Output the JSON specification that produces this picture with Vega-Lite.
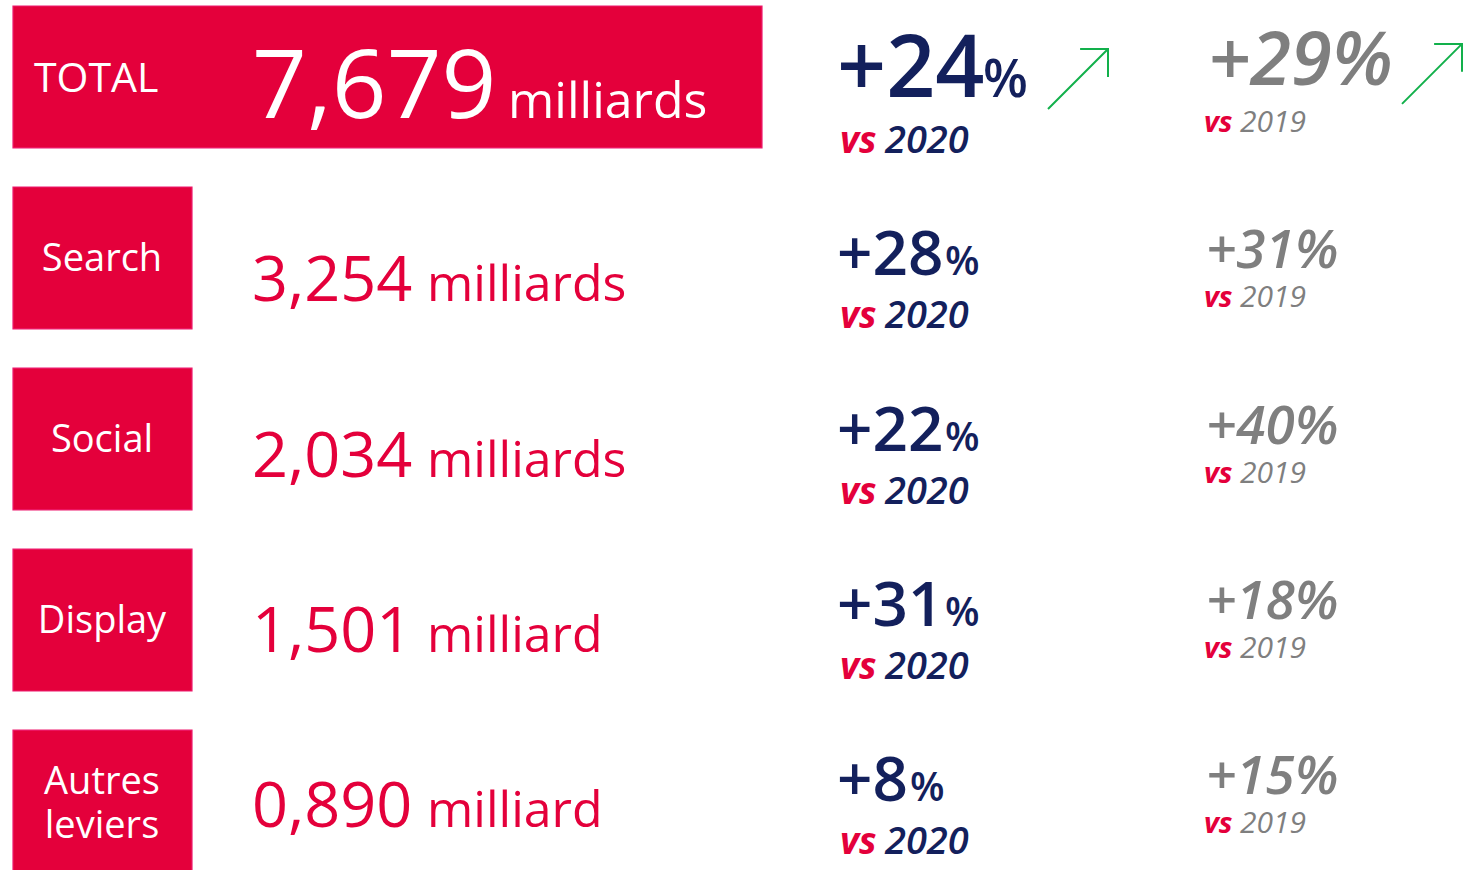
{
  "$schema": "https://vega.github.io/schema/vega-lite/v6.json",
  "width": 1471,
  "height": 870,
  "autosize": {"type": "fit", "contains": "padding"},
  "padding": 0,
  "background": "white",
  "config": {"view": {"stroke": null}, "text": {"font": "Open Sans"}},
  "data": {
    "values": [
      {"segment": "TOTAL", "label": "TOTAL", "amount": "7,679", "unit": "milliards", "vs2020": "+24", "vs2019": "+29%"},
      {"segment": "Search", "label": "Search", "amount": "3,254", "unit": "milliards", "vs2020": "+28", "vs2019": "+31%"},
      {"segment": "Social", "label": "Social", "amount": "2,034", "unit": "milliards", "vs2020": "+22", "vs2019": "+40%"},
      {"segment": "Display", "label": "Display", "amount": "1,501", "unit": "milliard", "vs2020": "+31", "vs2019": "+18%"},
      {"segment": "Autres leviers", "label": "Autres leviers", "amount": "0,890", "unit": "milliard", "vs2020": "+8", "vs2019": "+15%"}
    ]
  },
  "resolve": {"scale": {"y": "independent"}},
  "layer": [
    {
      "encoding": {
        "y": {"field": "segment", "type": "nominal", "axis": null,
          "scale": {"type": "band", "domain": ["TOTAL", "Search", "Social", "Display", "Autres leviers"], "range": [6, 872], "paddingInner": 0.216, "paddingOuter": 0}}
      },
      "layer": [
        {
          "transform": [{"filter": "datum.segment === 'TOTAL'"}],
          "mark": {"type": "rect", "fill": "#E4003B", "stroke": "#EE1B6E", "strokeWidth": 1.2},
          "encoding": {
            "x": {"datum": 13, "type": "quantitative", "axis": null, "scale": {"domain": [0, 1471], "nice": false, "zero": false}},
            "x2": {"datum": 762}
          }
        },
        {
          "transform": [{"filter": "datum.segment !== 'TOTAL'"}],
          "mark": {"type": "rect", "fill": "#E4003B", "stroke": "#EE1B6E", "strokeWidth": 1.2},
          "encoding": {
            "x": {"datum": 13, "type": "quantitative", "axis": null, "scale": {"domain": [0, 1471], "nice": false, "zero": false}},
            "x2": {"datum": 192}
          }
        },
        {
          "transform": [{"filter": "datum.segment === 'TOTAL'"}],
          "mark": {"type": "text", "align": "left", "baseline": "middle", "fontSize": 41, "dy": 3, "color": "white"},
          "encoding": {
            "x": {"datum": 34, "type": "quantitative", "axis": null},
            "text": {"field": "label"}
          }
        },
        {
          "transform": [{"filter": {"field": "segment", "oneOf": ["Search", "Social", "Display"]}}],
          "mark": {"type": "text", "align": "center", "baseline": "middle", "fontSize": 38, "dy": 2, "color": "white"},
          "encoding": {
            "x": {"datum": 102, "type": "quantitative", "axis": null},
            "text": {"field": "label"}
          }
        },
        {
          "transform": [{"filter": "datum.segment === 'Autres leviers'"}],
          "mark": {"type": "text", "align": "center", "baseline": "middle", "fontSize": 38, "dy": -18, "lineBreak": " ", "lineHeight": 44, "color": "white"},
          "encoding": {
            "x": {"datum": 102, "type": "quantitative", "axis": null},
            "text": {"field": "label"}
          }
        }
      ]
    },
    {
      "encoding": {
        "y": {"field": "segment", "type": "nominal", "axis": null,
          "scale": {"type": "point", "domain": ["TOTAL", "Search", "Social", "Display", "Autres leviers"], "range": [100, 801], "padding": 0}}
      },
      "layer": [
        {
          "transform": [{"filter": "datum.segment === 'TOTAL'"}],
          "mark": {"type": "text", "align": "left", "baseline": "alphabetic", "fontSize": 96, "dy": 18, "color": "white"},
          "encoding": {"x": {"datum": 252, "type": "quantitative", "axis": null}, "text": {"field": "amount"}}
        },
        {
          "transform": [{"filter": "datum.segment === 'TOTAL'"}],
          "mark": {"type": "text", "align": "left", "baseline": "alphabetic", "fontSize": 50, "dy": 18, "color": "white"},
          "encoding": {"x": {"datum": 508, "type": "quantitative", "axis": null}, "text": {"field": "unit"}}
        },
        {
          "transform": [{"filter": "datum.segment !== 'TOTAL'"}],
          "mark": {"type": "text", "align": "left", "baseline": "alphabetic", "fontSize": 63, "dy": 26, "color": "#E4003B"},
          "encoding": {"x": {"datum": 252, "type": "quantitative", "axis": null}, "text": {"field": "amount"}}
        },
        {
          "transform": [{"filter": "datum.segment !== 'TOTAL'"}],
          "mark": {"type": "text", "align": "left", "baseline": "alphabetic", "fontSize": 50, "dy": 26, "color": "#E4003B"},
          "encoding": {"x": {"datum": 427, "type": "quantitative", "axis": null}, "text": {"field": "unit"}}
        },
        {
          "transform": [{"filter": "datum.segment === 'TOTAL'"}],
          "mark": {"type": "text", "align": "left", "baseline": "alphabetic", "fontSize": 86, "fontWeight": 600, "dy": -3, "color": "#13205C"},
          "encoding": {"x": {"datum": 837, "type": "quantitative", "axis": null}, "text": {"field": "vs2020"}}
        },
        {
          "transform": [{"filter": "datum.segment === 'TOTAL'"}],
          "mark": {"type": "text", "align": "left", "baseline": "alphabetic", "fontSize": 52, "fontWeight": 600, "dy": -3, "color": "#13205C", "text": "%"},
          "encoding": {"x": {"datum": 983, "type": "quantitative", "axis": null}}
        },
        {
          "transform": [{"filter": "datum.segment !== 'TOTAL'"}],
          "mark": {"type": "text", "align": "left", "baseline": "alphabetic", "fontSize": 62, "fontWeight": 600, "dy": 0, "color": "#13205C"},
          "encoding": {"x": {"datum": 837, "type": "quantitative", "axis": null}, "text": {"field": "vs2020"}}
        },
        {
          "transform": [{"filter": {"field": "segment", "oneOf": ["Search", "Social", "Display"]}}],
          "mark": {"type": "text", "align": "left", "baseline": "alphabetic", "fontSize": 40, "fontWeight": 600, "dy": 0, "color": "#13205C", "text": "%"},
          "encoding": {"x": {"datum": 945, "type": "quantitative", "axis": null}}
        },
        {
          "transform": [{"filter": "datum.segment === 'Autres leviers'"}],
          "mark": {"type": "text", "align": "left", "baseline": "alphabetic", "fontSize": 40, "fontWeight": 600, "dy": 0, "color": "#13205C", "text": "%"},
          "encoding": {"x": {"datum": 910, "type": "quantitative", "axis": null}}
        },
        {
          "mark": {"type": "text", "align": "left", "baseline": "alphabetic", "fontSize": 37, "fontWeight": "bold", "fontStyle": "italic", "dy": 53, "color": "#E4003B", "text": "vs"},
          "encoding": {"x": {"datum": 840, "type": "quantitative", "axis": null}}
        },
        {
          "mark": {"type": "text", "align": "left", "baseline": "alphabetic", "fontSize": 38, "fontWeight": 600, "fontStyle": "italic", "dy": 53, "color": "#13205C", "text": "2020"},
          "encoding": {"x": {"datum": 885, "type": "quantitative", "axis": null}}
        },
        {
          "transform": [{"filter": "datum.segment === 'TOTAL'"}],
          "mark": {"type": "text", "align": "left", "baseline": "alphabetic", "fontSize": 74, "fontWeight": 600, "fontStyle": "italic", "dy": -15, "color": "#7F7F7F"},
          "encoding": {"x": {"datum": 1208, "type": "quantitative", "axis": null}, "text": {"field": "vs2019"}}
        },
        {
          "transform": [{"filter": "datum.segment !== 'TOTAL'"}],
          "mark": {"type": "text", "align": "left", "baseline": "alphabetic", "fontSize": 53, "fontWeight": 600, "fontStyle": "italic", "dy": -7, "color": "#7F7F7F"},
          "encoding": {"x": {"datum": 1206, "type": "quantitative", "axis": null}, "text": {"field": "vs2019"}}
        },
        {
          "mark": {"type": "text", "align": "left", "baseline": "alphabetic", "fontSize": 29, "fontWeight": "bold", "fontStyle": "italic", "dy": 32, "color": "#E4003B", "text": "vs"},
          "encoding": {"x": {"datum": 1204, "type": "quantitative", "axis": null}}
        },
        {
          "mark": {"type": "text", "align": "left", "baseline": "alphabetic", "fontSize": 30, "fontStyle": "italic", "dy": 32, "color": "#7F7F7F", "text": "2019"},
          "encoding": {"x": {"datum": 1240, "type": "quantitative", "axis": null}}
        },
        {
          "transform": [{"filter": "datum.segment === 'TOTAL'"}],
          "mark": {"type": "point", "shape": "M-1,0.3L1,-1.7M0.07,-1.7L1,-1.7L1,-0.77", "size": 3600, "filled": false, "stroke": "#12B04B", "strokeWidth": 2, "opacity": 1},
          "encoding": {"x": {"datum": 1078, "type": "quantitative", "axis": null}}
        },
        {
          "transform": [{"filter": "datum.segment === 'TOTAL'"}],
          "mark": {"type": "point", "shape": "M-1,0.13L1,-1.87M0.07,-1.87L1,-1.87L1,-0.94", "size": 3600, "filled": false, "stroke": "#12B04B", "strokeWidth": 2, "opacity": 1},
          "encoding": {"x": {"datum": 1432, "type": "quantitative", "axis": null}}
        }
      ]
    }
  ]
}
